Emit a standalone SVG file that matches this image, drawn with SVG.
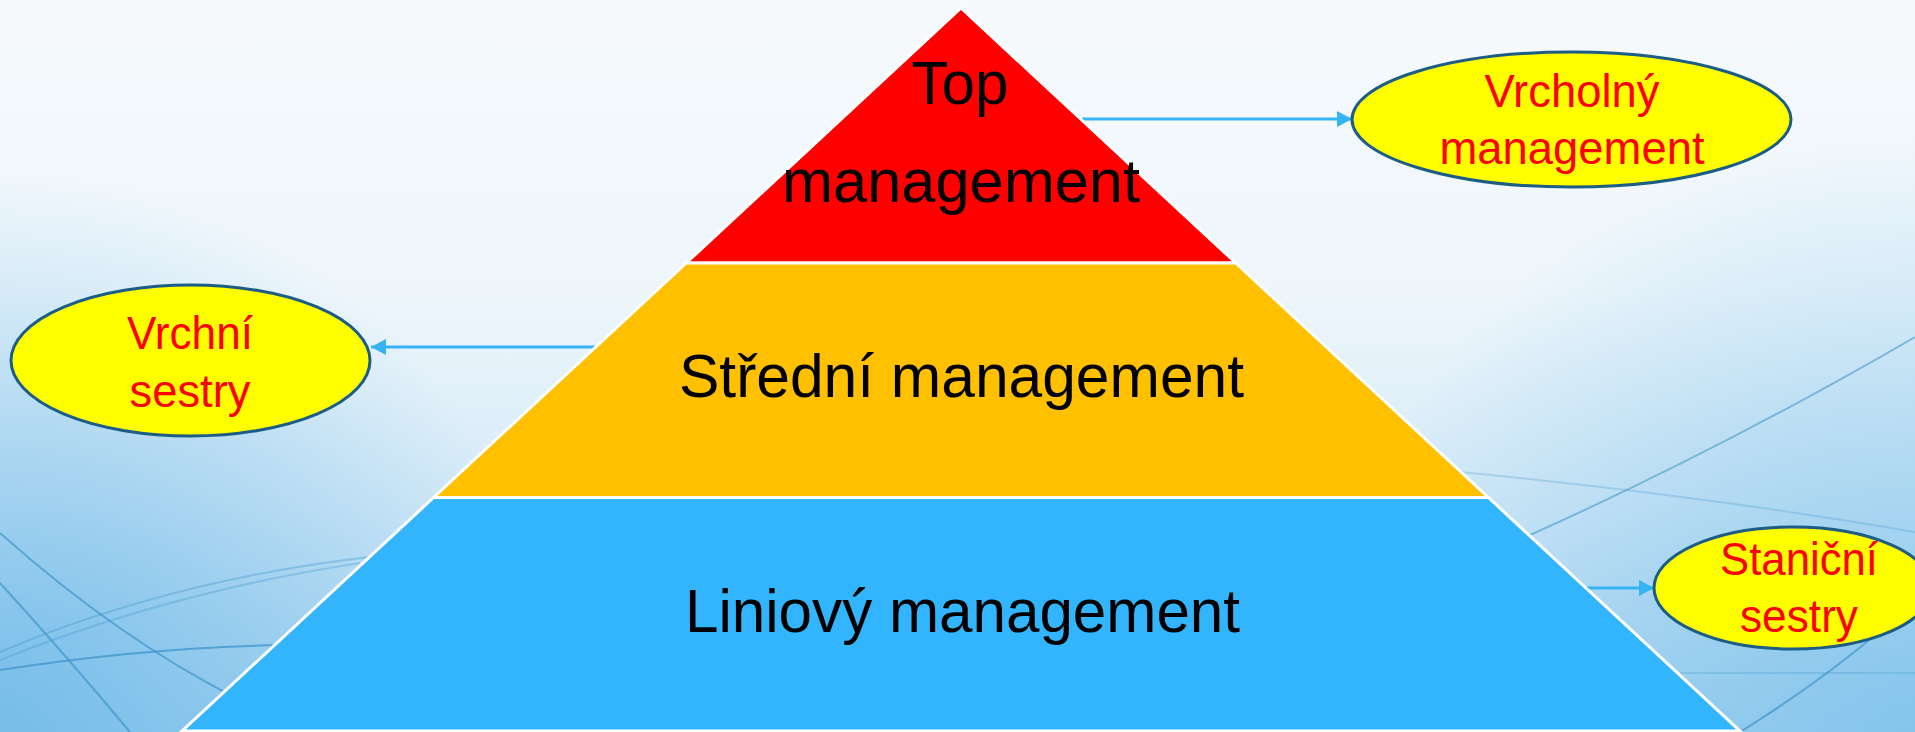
<svg xmlns="http://www.w3.org/2000/svg" width="1915" height="732" viewBox="0 0 1915 732">
<defs>
<linearGradient id="bgV" x1="0" y1="0" x2="0" y2="1">
<stop offset="0" stop-color="#f6fafd"/>
<stop offset="0.4" stop-color="#eef6fb"/>
<stop offset="0.7" stop-color="#d3e9f7"/>
<stop offset="1" stop-color="#aad6f1"/>
</linearGradient>
<radialGradient id="cornerL" cx="0" cy="732" r="560" gradientUnits="userSpaceOnUse">
<stop offset="0" stop-color="#6cb8e8" stop-opacity="0.85"/>
<stop offset="1" stop-color="#6cb8e8" stop-opacity="0"/>
</radialGradient>
<radialGradient id="cornerR" cx="1915" cy="732" r="600" gradientUnits="userSpaceOnUse">
<stop offset="0" stop-color="#78bfea" stop-opacity="0.75"/>
<stop offset="1" stop-color="#78bfea" stop-opacity="0"/>
</radialGradient>
<marker id="arr" markerUnits="userSpaceOnUse" markerWidth="16" markerHeight="17" refX="15" refY="8" orient="auto">
<path d="M0,0 L15,8 L0,16 z" fill="#35b3f3"/>
</marker>
<style>
.band{stroke:#ffffff;stroke-width:3;stroke-linejoin:miter}
.ptxt{font-family:"Liberation Sans",Arial,sans-serif;font-size:61px;fill:#000000;text-anchor:middle}
.oval{fill:#ffff00;stroke:#1c5d86;stroke-width:3}
.otxt{font-family:"Liberation Sans",Arial,sans-serif;font-size:47px;fill:#ff0000;text-anchor:middle}
.conn{stroke:#35b3f3;stroke-width:3;fill:none;marker-end:url(#arr)}
.curve{fill:none;stroke:#3d95c9;stroke-width:2}
</style>
</defs>
<g id="background">
<rect x="0" y="0" width="1915" height="732" fill="url(#bgV)"/>
<rect x="0" y="0" width="1915" height="732" fill="url(#cornerL)"/>
<rect x="0" y="0" width="1915" height="732" fill="url(#cornerR)"/>
<path class="curve" d="M0,533 Q120,640 240,700" opacity="0.7"/>
<path class="curve" d="M0,583 Q70,660 130,732" opacity="0.7"/>
<path class="curve" d="M0,670 Q140,648 280,645" stroke-width="3" opacity="0.75"/>
<path class="curve" d="M0,652 Q170,580 370,557" opacity="0.35"/>
<path class="curve" d="M0,660 Q170,592 360,563" opacity="0.3"/>
<path class="curve" d="M1915,337 Q1720,450 1530,535" opacity="0.55"/>
<path class="curve" d="M1460,472 Q1700,495 1915,532" opacity="0.25"/>
<path class="curve" d="M1680,673 L1915,673" opacity="0.25"/>
<path class="curve" d="M1740,732 Q1840,670 1915,600" opacity="0.7"/>
</g>
<g id="connectors">
<line class="conn" x1="1082" y1="119" x2="1352" y2="119"/>
<line class="conn" x1="597" y1="347" x2="371" y2="347"/>
<line class="conn" x1="1585" y1="588" x2="1654" y2="588"/>
</g>
<g id="top-management">
<polygon class="band" points="961,8 1235.8,263 686.2,263" fill="#ff0000"/>
<text class="ptxt" x="960" y="104" textLength="97" lengthAdjust="spacingAndGlyphs">Top</text>
<text class="ptxt" x="961" y="202" textLength="358" lengthAdjust="spacingAndGlyphs">management</text>
</g>
<g id="stredni-management">
<polygon class="band" points="686.2,263 1235.8,263 1488.4,497.5 433.6,497.5" fill="#ffc000"/>
<text class="ptxt" x="961.5" y="397" textLength="565" lengthAdjust="spacingAndGlyphs">Střední management</text>
</g>
<g id="liniovy-management">
<polygon class="band" points="433.6,497.5 1488.4,497.5 1740,731 182,731" fill="#33b5fd"/>
<text class="ptxt" x="962.5" y="632" textLength="555" lengthAdjust="spacingAndGlyphs">Liniový management</text>
</g>
<g id="vrcholny-management">
<ellipse class="oval" cx="1571.5" cy="119.5" rx="219.5" ry="67.5"/>
<text class="otxt" x="1572" y="107" textLength="175" lengthAdjust="spacingAndGlyphs">Vrcholný</text>
<text class="otxt" x="1572" y="164" textLength="265" lengthAdjust="spacingAndGlyphs">management</text>
</g>
<g id="vrchni-sestry">
<ellipse class="oval" cx="190.5" cy="360.5" rx="179.5" ry="75.5"/>
<text class="otxt" x="190" y="349" textLength="126" lengthAdjust="spacingAndGlyphs">Vrchní</text>
<text class="otxt" x="190" y="407" textLength="121" lengthAdjust="spacingAndGlyphs">sestry</text>
</g>
<g id="stanicni-sestry">
<ellipse class="oval" cx="1793" cy="588" rx="139" ry="61"/>
<text class="otxt" x="1799" y="575" textLength="158" lengthAdjust="spacingAndGlyphs">Staniční</text>
<text class="otxt" x="1799" y="632" textLength="118" lengthAdjust="spacingAndGlyphs">sestry</text>
</g>
</svg>
